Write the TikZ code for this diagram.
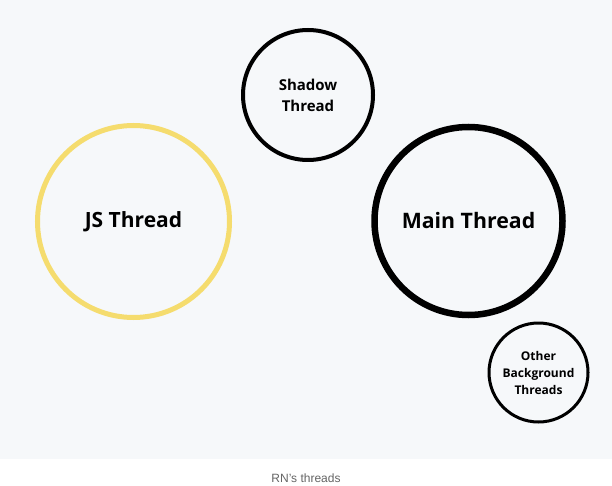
\documentclass[tikz,border=0pt]{standalone}
\usepackage{fontspec}
\setmainfont{Open Sans}
\newfontfamily\capfont{Liberation Sans}
\definecolor{bgc}{RGB}{246,248,250}
\definecolor{jsy}{RGB}{245,220,110}
\definecolor{capc}{RGB}{100,100,100}
\begin{document}
\begin{tikzpicture}[x=1pt,y=-1pt,
  thread/.style={circle,draw=black,fill=none,inner sep=0pt,align=center,font=\bfseries,text=black}]
\useasboundingbox (0,0) rectangle (612,486);
\fill[bgc] (0,0) rectangle (612,459);
\node[thread,draw=jsy,line width=5pt,minimum size=192pt,font=\bfseries\fontsize{21}{25}\selectfont] (js) at (133.5,221.5) {JS Thread};
\node[thread,line width=6.5pt,minimum size=188pt,font=\bfseries\fontsize{21.3}{25}\selectfont] (main) at (468.5,221) {Main Thread};
\node[thread,line width=4pt,minimum size=130pt,font=\bfseries\fontsize{15}{21}\selectfont] (shadow) at (308,95) {Shadow\\Thread};
\node[thread,line width=3pt,minimum size=99pt,font=\bfseries\fontsize{12}{17}\selectfont] (other) at (538.5,372.5) {Other\\Background\\Threads};
\node[font=\capfont\fontsize{12}{14}\selectfont,text=capc] (cap) at (306,478) {RN’s threads};
\end{tikzpicture}
\end{document}
